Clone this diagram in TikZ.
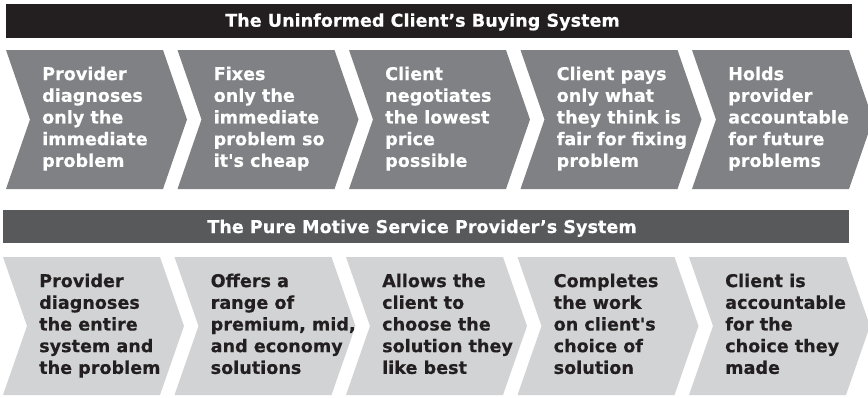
\documentclass[tikz,border=0pt]{standalone}
\usepackage{fontspec}
\setmainfont{DejaVu Sans}[Ligatures=TeXOff, BoldFeatures={FakeBold=0.4}]
\definecolor{barDark}{HTML}{231F20}
\definecolor{barMid}{HTML}{58595B}
\definecolor{chevDark}{HTML}{808184}
\definecolor{chevLight}{HTML}{D1D3D4}
\definecolor{inkDark}{HTML}{231F20}

% one arrow-shaped step: #1 = left x, #2 = top y, #3 = half height, #4 = fill
\newcommand\chevronstep[4]{%
  \fill[#4] (#1,#2) -- ++(157,0) -- ++(24,#3) -- ++(-24,#3) -- ++(-157,0)
    -- ++(24,-#3) -- cycle;}

\tikzset{
  bigfont/.style={font=\bfseries\fontsize{17.6}{21.7}\selectfont},
  titletext/.style={bigfont, anchor=base, inner sep=0pt},
  steptext/.style={bigfont, anchor=north west, align=left, inner sep=0pt},
  lighttext/.style={steptext, text=white},
  darktext/.style={steptext, text=inkDark},
}

\begin{document}
\begin{tikzpicture}[x=1pt, y=-1pt]
  \useasboundingbox (0,0) rectangle (868,397);
  \clip (0,0) rectangle (868,397);

  % ---- upper system ----
  \fill[barDark] (6,4) rectangle (852,37.5);
  \node[titletext, text=white] (t1) at (422.5,26.7) {The Uninformed Client’s Buying System};

  \chevronstep{6}{50}{69.5}{chevDark}
  \chevronstep{177.5}{50}{69.5}{chevDark}
  \chevronstep{349}{50}{69.5}{chevDark}
  \chevronstep{520.5}{50}{69.5}{chevDark}
  \chevronstep{692}{50}{69.5}{chevDark}

  \node[lighttext] (a1) at (42,66.5) {Provider\\diagnoses\\only the\\immediate\\problem};
  \node[lighttext] (a2) at (213.5,66.5) {Fixes\\only the\\immediate\\problem so\\it's cheap};
  \node[lighttext] (a3) at (385,66.5) {Client\\negotiates\\the lowest\\price\\possible};
  \node[lighttext] (a4) at (556.5,66.5) {Client pays\\only what\\they think is\\fair for fixing\\problem};
  \node[lighttext] (a5) at (728,66.5) {Holds\\provider\\accountable\\for future\\problems};

  % ---- lower system ----
  \fill[barMid] (3,210) rectangle (849,243);
  \node[titletext, text=white] (t2) at (422,233) {The Pure Motive Service Provider’s System};

  \chevronstep{3}{257}{69}{chevLight}
  \chevronstep{174.5}{257}{69}{chevLight}
  \chevronstep{346}{257}{69}{chevLight}
  \chevronstep{517.5}{257}{69}{chevLight}
  \chevronstep{689}{257}{69}{chevLight}

  \node[darktext] (b1) at (39,273.5) {Provider\\diagnoses\\the entire\\system and\\the problem};
  \node[darktext] (b2) at (210.5,273.5) {Offers a\\range of\\premium, mid,\\and economy\\solutions};
  \node[darktext] (b3) at (382,273.5) {Allows the\\client to\\choose the\\solution they\\like best};
  \node[darktext] (b4) at (553.5,273.5) {Completes\\the work\\on client's\\choice of\\solution};
  \node[darktext] (b5) at (725,273.5) {Client is\\accountable\\for the\\choice they\\made};
\end{tikzpicture}
\end{document}
